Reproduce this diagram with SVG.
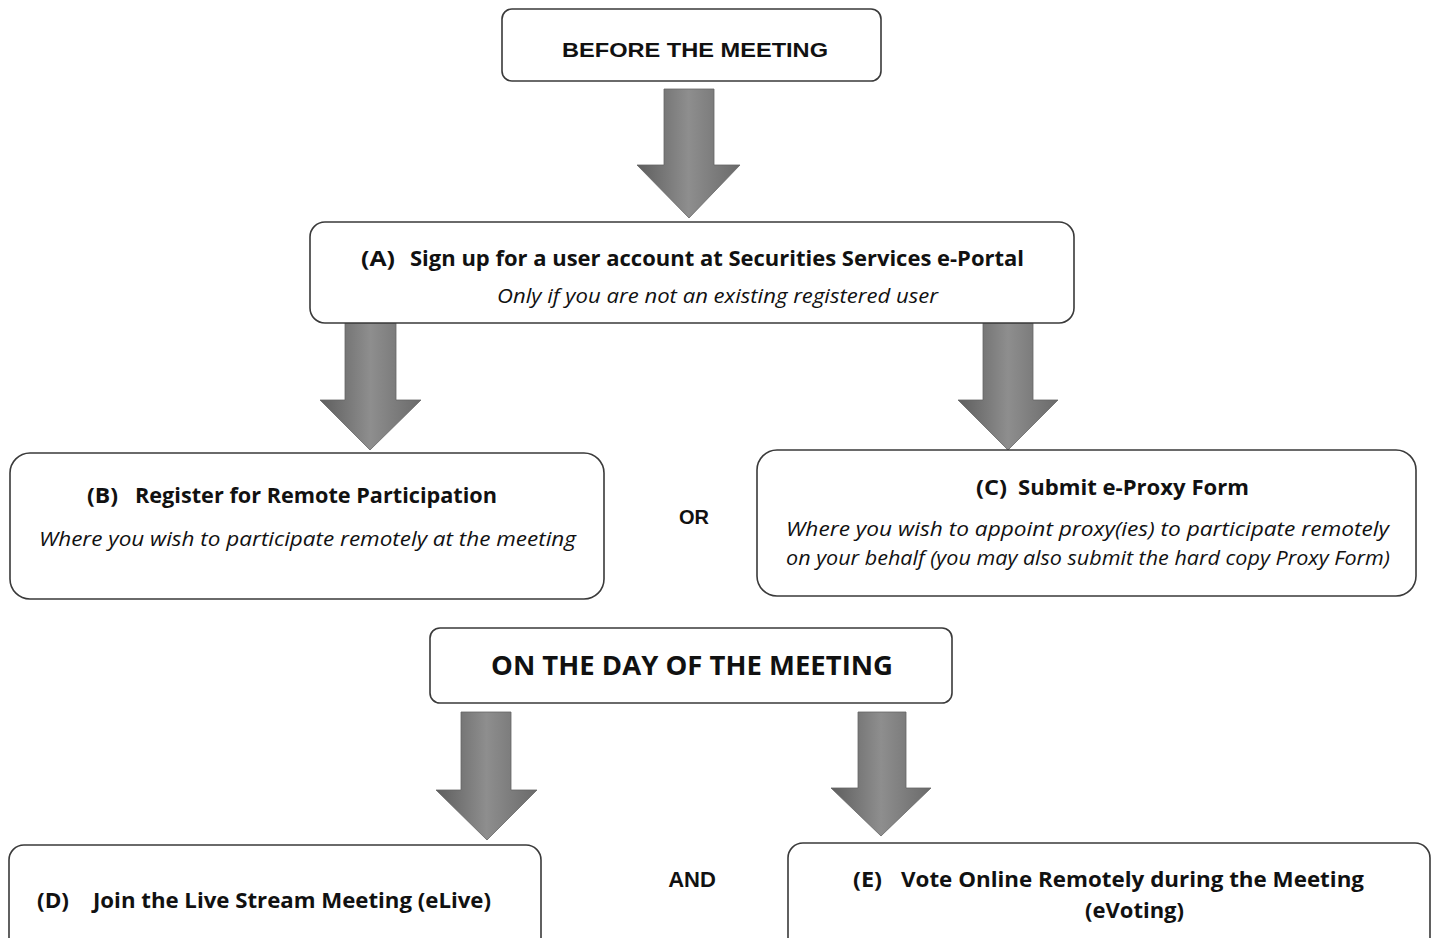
<svg xmlns="http://www.w3.org/2000/svg" width="1434" height="938" viewBox="0 0 1434 938">
<style>
.box{fill:#fff;stroke:#3a3a3a;stroke-width:1.6}
.hdr{font-family:"Liberation Sans",Arial,sans-serif;font-weight:bold;fill:#111}
.b{font-family:"Open Sans","Noto Sans",sans-serif;font-weight:bold;fill:#111}
.i{font-family:"Open Sans","Noto Sans",sans-serif;font-style:italic;fill:#111}
.arr{fill:url(#g);stroke:#666;stroke-width:0.8}
</style>
<defs>
<linearGradient id="g" x1="0" y1="0" x2="1" y2="0">
<stop offset="0" stop-color="#5e5e5e"/>
<stop offset="0.5" stop-color="#8e8e8e"/>
<stop offset="1" stop-color="#6a6a6a"/>
</linearGradient>
</defs>
<g id="connectors">
<path class="arr" d="M664 89H714V165H740L689 218L637 165H664Z"/>
<path class="arr" d="M345 323H396V400H421L370 450L320 400H345Z"/>
<path class="arr" d="M983 323H1033V400H1058L1008 450L958 400H983Z"/>
<path class="arr" d="M461 712H511V790H537L487 840L436 790H461Z"/>
<path class="arr" d="M858 712H906V788H931L881 836L831 788H858Z"/>
</g>
<g id="before">
<rect class="box" x="502" y="9" width="379" height="72" rx="10"/>
<text class="hdr" x="695" y="57" font-size="21" text-anchor="middle" textLength="266" lengthAdjust="spacingAndGlyphs">BEFORE THE MEETING</text>
</g>
<g id="nodeA">
<rect class="box" x="310" y="222" width="764" height="101" rx="15"/>
<text class="b" y="266" font-size="22"><tspan x="361" textLength="34" lengthAdjust="spacingAndGlyphs">(A)</tspan><tspan x="410" textLength="614" lengthAdjust="spacingAndGlyphs">Sign up for a user account  at Securities Services e-Portal</tspan></text>
<text class="i" x="497" y="303" font-size="20" textLength="441" lengthAdjust="spacingAndGlyphs">Only if you are not an existing registered user</text>
</g>
<g id="nodeB">
<rect class="box" x="10" y="453" width="594" height="146" rx="20"/>
<text class="b" y="503" font-size="22"><tspan x="87" textLength="31" lengthAdjust="spacingAndGlyphs">(B)</tspan><tspan x="135" textLength="362" lengthAdjust="spacingAndGlyphs">Register for Remote Participation</tspan></text>
<text class="i" x="39" y="546" font-size="20" textLength="537" lengthAdjust="spacingAndGlyphs">Where you wish to participate remotely at the meeting</text>
</g>
<g id="or">
<text class="hdr" x="694" y="524" font-size="20" text-anchor="middle">OR</text>
</g>
<g id="nodeC">
<rect class="box" x="757" y="450" width="659" height="146" rx="20"/>
<text class="b" y="495" font-size="22"><tspan x="976" textLength="31" lengthAdjust="spacingAndGlyphs">(C)</tspan><tspan x="1018" textLength="231" lengthAdjust="spacingAndGlyphs">Submit  e-Proxy Form</tspan></text>
<text class="i" x="786" y="536" font-size="20" textLength="603" lengthAdjust="spacingAndGlyphs">Where you wish to appoint proxy(ies) to participate remotely</text>
<text class="i" x="786" y="565" font-size="20" textLength="604" lengthAdjust="spacingAndGlyphs">on your behalf (you may also submit the hard copy Proxy Form)</text>
</g>
<g id="day">
<rect class="box" x="430" y="628" width="522" height="75" rx="10"/>
<text class="b" x="491" y="675" font-size="27" textLength="402" lengthAdjust="spacingAndGlyphs">ON THE DAY OF THE MEETING</text>
</g>
<g id="nodeD">
<rect class="box" x="9" y="845" width="532" height="110" rx="15"/>
<text class="b" y="908" font-size="22"><tspan x="37" textLength="32" lengthAdjust="spacingAndGlyphs">(D)</tspan><tspan x="93" textLength="398" lengthAdjust="spacingAndGlyphs">Join the Live Stream Meeting (eLive)</tspan></text>
</g>
<g id="and">
<text class="hdr" x="692" y="887" font-size="22" text-anchor="middle">AND</text>
</g>
<g id="nodeE">
<rect class="box" x="788" y="843" width="642" height="110" rx="15"/>
<text class="b" y="887" font-size="22"><tspan x="853" textLength="29" lengthAdjust="spacingAndGlyphs">(E)</tspan><tspan x="901" textLength="463" lengthAdjust="spacingAndGlyphs">Vote Online Remotely during the Meeting</tspan></text>
<text class="b" x="1085" y="918" font-size="22" textLength="99" lengthAdjust="spacingAndGlyphs">(eVoting)</text>
</g>
</svg>
